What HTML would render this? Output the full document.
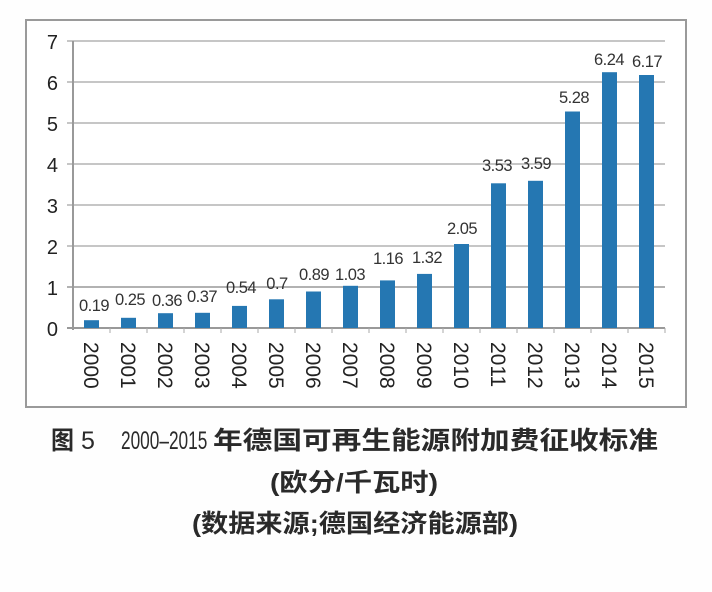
<!DOCTYPE html>
<html><head><meta charset="utf-8"><style>
html,body{margin:0;padding:0;background:#fff;}
svg{display:block;}
</style></head><body>
<svg width="712" height="592" viewBox="0 0 712 592" xmlns="http://www.w3.org/2000/svg">
<rect x="0" y="0" width="712" height="592" fill="#fefefe"/>
<rect x="26" y="20" width="660" height="387" fill="#fff" stroke="#9a9a9a" stroke-width="2"/>
<g stroke="#b4b4b4" stroke-width="1.4">
<line x1="67" y1="41" x2="665" y2="41"/>
<line x1="67" y1="82" x2="665" y2="82"/>
<line x1="67" y1="123" x2="665" y2="123"/>
<line x1="67" y1="164" x2="665" y2="164"/>
<line x1="67" y1="205" x2="665" y2="205"/>
<line x1="67" y1="246" x2="665" y2="246"/>
<line x1="67" y1="287" x2="665" y2="287" stroke="#999"/>
</g>
<line x1="73" y1="41" x2="73" y2="330" stroke="#999" stroke-width="2"/>
<line x1="67" y1="328" x2="665" y2="328" stroke="#999" stroke-width="2"/>
<g stroke="#aaa" stroke-width="1">
<line x1="110" y1="328" x2="110" y2="333"/><line x1="147" y1="328" x2="147" y2="333"/><line x1="184" y1="328" x2="184" y2="333"/><line x1="221" y1="328" x2="221" y2="333"/><line x1="258" y1="328" x2="258" y2="333"/><line x1="295" y1="328" x2="295" y2="333"/><line x1="332" y1="328" x2="332" y2="333"/><line x1="369" y1="328" x2="369" y2="333"/><line x1="406" y1="328" x2="406" y2="333"/><line x1="443" y1="328" x2="443" y2="333"/><line x1="480" y1="328" x2="480" y2="333"/><line x1="517" y1="328" x2="517" y2="333"/><line x1="554" y1="328" x2="554" y2="333"/><line x1="591" y1="328" x2="591" y2="333"/><line x1="628" y1="328" x2="628" y2="333"/><line x1="665" y1="328" x2="665" y2="333"/>
</g>
<g font-family="Liberation Sans, sans-serif" font-size="20" fill="#222" text-anchor="end">
<text x="58" y="49">7</text>
<text x="58" y="90">6</text>
<text x="58" y="131">5</text>
<text x="58" y="172">4</text>
<text x="58" y="213">3</text>
<text x="58" y="254">2</text>
<text x="58" y="295">1</text>
<text x="58" y="336">0</text>
</g>
<g fill="#2577b2">
<rect x="84" y="320.2" width="15" height="7.8"/>
<rect x="121" y="317.8" width="15" height="10.2"/>
<rect x="158" y="313.2" width="15" height="14.8"/>
<rect x="195" y="312.8" width="15" height="15.2"/>
<rect x="232" y="305.9" width="15" height="22.1"/>
<rect x="269" y="299.3" width="15" height="28.7"/>
<rect x="306" y="291.5" width="15" height="36.5"/>
<rect x="343" y="285.8" width="15" height="42.2"/>
<rect x="380" y="280.4" width="15" height="47.6"/>
<rect x="417" y="273.9" width="15" height="54.1"/>
<rect x="454" y="244" width="15" height="84"/>
<rect x="491" y="183.3" width="15" height="144.7"/>
<rect x="528" y="180.8" width="15" height="147.2"/>
<rect x="565" y="111.5" width="15" height="216.5"/>
<rect x="602" y="72.2" width="15" height="255.8"/>
<rect x="639" y="75" width="15" height="253"/>
</g>
<g font-family="Liberation Sans, sans-serif" font-size="16.5" fill="#333" text-anchor="middle" letter-spacing="-0.5">
<text x="94" y="311">0.19</text>
<text x="130" y="305">0.25</text>
<text x="167" y="306">0.36</text>
<text x="202" y="302">0.37</text>
<text x="241" y="293">0.54</text>
<text x="277" y="289">0.7</text>
<text x="314" y="280">0.89</text>
<text x="350" y="280">1.03</text>
<text x="388" y="264">1.16</text>
<text x="427" y="263">1.32</text>
<text x="462" y="234">2.05</text>
<text x="497" y="171">3.53</text>
<text x="536" y="169">3.59</text>
<text x="574" y="103">5.28</text>
<text x="609" y="65">6.24</text>
<text x="647" y="67">6.17</text>
</g>
<g font-family="Liberation Sans, sans-serif" font-size="21" fill="#222">
<text transform="translate(84,342) rotate(90)">2000</text>
<text transform="translate(121,342) rotate(90)">2001</text>
<text transform="translate(158,342) rotate(90)">2002</text>
<text transform="translate(195,342) rotate(90)">2003</text>
<text transform="translate(232,342) rotate(90)">2004</text>
<text transform="translate(269,342) rotate(90)">2005</text>
<text transform="translate(306,342) rotate(90)">2006</text>
<text transform="translate(343,342) rotate(90)">2007</text>
<text transform="translate(380,342) rotate(90)">2008</text>
<text transform="translate(417,342) rotate(90)">2009</text>
<text transform="translate(454,342) rotate(90)">2010</text>
<text transform="translate(491,342) rotate(90)">2011</text>
<text transform="translate(528,342) rotate(90)">2012</text>
<text transform="translate(565,342) rotate(90)">2013</text>
<text transform="translate(602,342) rotate(90)">2014</text>
<text transform="translate(639,342) rotate(90)">2015</text>
</g>
<g font-family="Liberation Sans, Noto Sans CJK SC, sans-serif" font-size="25" fill="#2a2a2a" font-weight="bold">
<text x="51" y="449" textLength="23" lengthAdjust="spacingAndGlyphs">图</text>
<text x="81" y="449" font-weight="normal" font-size="25">5</text>
<text transform="translate(121,449) scale(0.69,1)" font-weight="normal" font-size="25">2000–2015</text>
<text x="213" y="449" textLength="445" lengthAdjust="spacingAndGlyphs">年德国可再生能源附加费征收标准</text>
<text x="270" y="491" textLength="168" lengthAdjust="spacingAndGlyphs">(欧分/千瓦时)</text>
<text x="192" y="532" textLength="326" lengthAdjust="spacingAndGlyphs">(数据来源;德国经济能源部)</text>
</g>
</svg>
</body></html>
